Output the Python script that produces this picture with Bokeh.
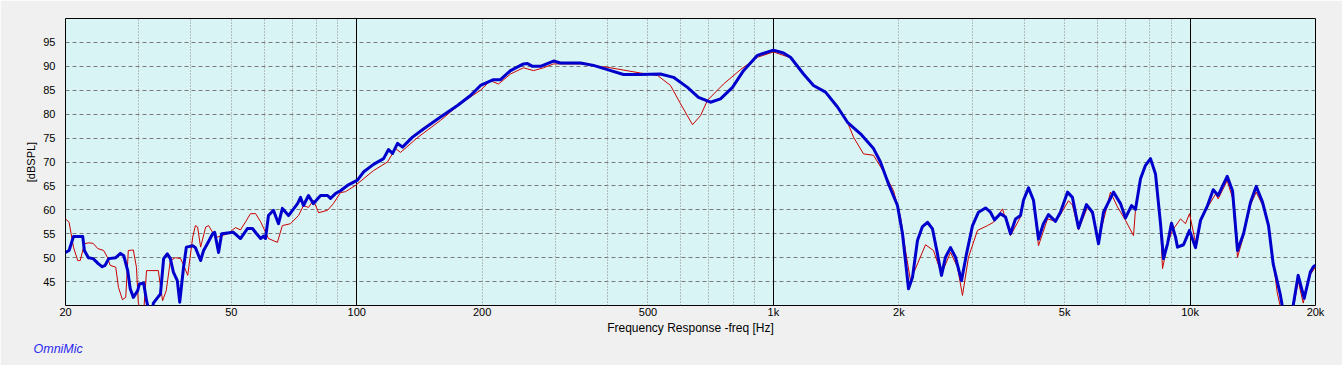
from bokeh.plotting import figure
from bokeh.models import FixedTicker, Grid, Range1d, Title
from bokeh.embed import file_html
from bokeh.resources import INLINE

# ---- data ----
freq_blue = [20, 20.4, 20.9, 22.0, 22.2, 22.7, 23.3, 24.0, 24.5, 24.9, 25.4, 26.4, 27.1, 27.6, 28.2,
             28.6, 29.1, 29.8, 30.1, 30.8, 31.3, 31.8, 32.3, 32.5, 33.3, 33.8, 34.4, 35.1, 35.7, 36.3,
             37.1, 37.6, 38.4, 39.0, 40.4, 41.0, 42.2, 42.9, 43.8, 45.1, 45.6, 46.6,
             47.4, 50.6, 52.6, 54.7, 56.2, 57.5, 58.8, 59.7, 60.4, 61.4, 63.1,
             64.9, 66.3, 68.6, 72.1, 73.3, 74.5, 76.6, 78.7, 81.9, 85.1, 86.5, 88.9, 91.4, 95.0, 100.4,
             103.8, 109.7, 116.0, 119.2, 121.9, 125.3, 128.8, 136.1, 144.6, 158.9, 174.5, 187.5, 198.2,
             212.9, 221.3, 233.9, 251.3, 256.9, 264.1, 276.1, 296.6, 308.3, 344.4, 370.0, 399.8, 436.8,
             479.8, 535.8, 575.7, 622.0, 661.0, 706.3, 746.5, 797.7, 847.7, 915.8, 1000, 1057, 1099,
             1181, 1248, 1334, 1425, 1506, 1618, 1739,
             1807, 1889, 1985, 2041, 2087, 2110, 2157, 2217, 2279, 2343, 2409, 2476, 2532, 2588, 2661,
             2735, 2828, 2907, 3005, 3106, 3229, 3319, 3393, 3508, 3606, 3707, 3811, 3918, 3983, 4095,
             4209, 4327, 4447, 4572, 4754, 4885, 5080, 5220, 5398, 5642, 5832, 6029, 6198, 6550, 6808,
             6999, 7235, 7397, 7604, 7817, 8036, 8261, 8493, 8635, 8828, 9025, 9227, 9329, 9644, 9969,
             10305, 10594, 11012, 11363, 11681, 12277, 12644, 12998, 13436, 13966, 14410, 14924, 15427,
             15830, 16454, 16637, 16915, 17389, 17680, 18175, 18788, 19440, 19764, 20000]
db_blue = [51.1, 51.5, 54.4, 54.4, 51.5, 50.0, 49.8, 48.7, 48.1, 48.4, 49.8, 50.0, 50.9, 50.4, 47.3,
           43.5, 41.7, 43.1, 44.5, 44.7, 41.0, 38.5, 38.5, 40.5, 41.7, 42.4, 49.8, 50.8, 49.8, 47.0,
           45.2, 40.7, 48.0, 52.2, 52.5, 52.1, 49.4, 51.5, 52.9, 55.0, 55.3, 51.1,
           55.0, 55.3, 54.0, 56.1, 56.1, 55.0, 54.0, 54.5, 54.0, 58.8, 59.9,
           57.1, 60.3, 58.8, 61.3, 62.6, 60.9, 63.0, 61.3, 63.0, 63.0, 62.4, 63.4, 64.0, 65.1, 66.2,
           67.9, 69.5, 70.7, 72.6, 71.8, 73.9, 73.1, 75.2, 76.9, 79.4, 81.8, 83.9, 86.0,
           87.2, 87.2, 89.1, 90.5, 90.6, 90.0, 90.0, 91.1, 90.7, 90.7, 90.2, 89.3, 88.3,
           88.3, 88.4, 87.7, 85.6, 83.5, 82.5, 83.2, 85.6, 89.1, 92.3, 93.4, 92.8, 91.9,
           88.4, 86.0, 84.6, 81.5, 78.3, 75.9, 72.8,
           70.0, 65.4, 60.9, 55.0, 47.3, 43.5, 45.9, 53.6, 56.5, 57.4, 56.0, 50.8, 46.3, 50.1, 52.1,
           50.1, 45.2, 50.8, 56.7, 59.5, 60.4, 59.5, 57.9, 59.2, 58.5, 55.0, 58.1, 58.8, 62.0, 64.6,
           62.0, 53.9, 57.1, 59.0, 57.6, 59.5, 63.7, 62.6, 56.2, 61.1, 59.5, 52.9, 59.5, 63.7, 61.3,
           58.3, 60.9, 60.1, 66.5, 69.3, 70.7, 67.5, 57.1, 49.8, 52.9, 57.2, 54.3, 52.2, 52.7, 55.7,
           52.1, 57.8, 60.9, 64.2, 63.0, 67.0, 64.0, 51.5, 55.0, 61.6, 64.9, 61.6, 56.7,
           48.7, 42.4, 40.0, 38.0, 38.0, 40.0, 46.3, 41.5, 47.0, 48.1, 48.4]

freq_red = [20, 20.4, 20.9, 21.4, 21.7, 22.2, 22.7, 23.3, 23.9, 24.7, 25.2, 25.6, 26.4, 26.8, 27.4,
            27.9, 28.3, 29.1, 29.6, 29.9, 30.3, 30.8, 31.3, 33.4, 34.2, 34.9, 35.7, 36.7, 37.8, 38.6,
            39.3, 40.4, 41.0, 41.5, 42.2, 43.4, 44.1, 45.1, 46.3,
            49.0, 51.2, 52.6, 54.1, 55.6, 57.2, 58.8, 61.4,
            64.5, 66.3, 69.3, 72.5, 74.5, 76.6, 78.7, 81.0, 85.1, 87.9, 91.4, 94.0, 99.3, 109.7, 118.5,
            123.9, 127.4, 139.9, 158.9, 177.4, 198.2, 209.4, 218.9, 233.9, 251.3, 265.6, 280.7, 296.6,
            344.4, 399.8, 479.8, 527.0, 566.3, 598.4, 639.5, 668.4, 694.7, 759.0, 833.7, 915.8, 1000,
            1099, 1181, 1248, 1334, 1425, 1506, 1557, 1645, 1739, 1838,
            1942, 2019, 2075, 2133, 2217, 2318, 2422, 2532, 2661, 2766, 2843, 2939, 3089, 3264, 3375,
            3547, 3707, 3918, 3983, 4095, 4209, 4327, 4548, 4754, 4885, 5108, 5220, 5398, 5673, 5832,
            6029, 6442, 6696, 6999, 7316, 7397, 7604, 7817, 8036, 8261, 8493, 8587, 8828, 9075, 9485,
            9751, 9969, 10305, 10594, 11012, 11509, 11681, 12277, 12644, 12998, 13436, 13966, 14410,
            14924, 15427, 16179, 16637, 17582, 18175, 18684, 19440, 20000]
db_red = [58.1, 57.4, 52.2, 49.4, 49.4, 52.9, 53.1, 53.0, 51.9, 51.5, 50.1, 48.4, 48.0, 43.8, 41.2,
          41.7, 51.5, 51.6, 48.0, 40.7, 38.5, 38.5, 47.3, 47.3, 41.0, 43.1, 49.4, 50.0, 49.8, 48.0,
          46.3, 54.3, 56.7, 56.4, 52.2, 56.4, 56.7, 55.3, 54.3,
          55.0, 56.3, 55.8, 57.5, 59.2, 59.2, 57.5, 54.0,
          53.2, 56.7, 57.1, 58.8, 60.9, 60.5, 62.0, 59.4, 59.9, 61.3, 63.6, 63.8, 65.1, 68.2, 70.0,
          72.8, 72.0, 75.1, 78.7, 82.2, 85.0, 87.0, 86.3, 88.4, 89.7, 89.1, 89.7, 90.5,
          90.5, 89.8, 88.6, 88.1, 86.0, 82.2, 77.8, 79.7, 82.9, 86.3, 89.3, 91.9, 93.0,
          91.8, 88.4, 86.0, 84.6, 81.5, 78.3, 75.2, 71.7, 71.4, 68.0,
          64.0, 58.5, 51.5, 45.2, 48.7, 52.7, 51.5, 46.6, 51.1, 48.0, 42.1, 50.1, 55.7, 56.7, 57.4,
          60.2, 54.6, 58.5, 62.0, 64.5, 62.0, 52.5, 58.1, 57.6, 59.0, 61.9, 61.0, 55.8, 60.6, 59.0,
          53.6, 63.7, 60.6, 57.8, 54.6, 60.1, 66.5, 69.3, 70.7, 67.5, 57.0, 47.7, 52.9, 55.7, 58.1,
          57.1, 59.2, 53.2, 57.5, 60.5, 63.3, 62.3, 66.1, 62.5, 50.1, 54.5, 61.0, 63.7,
          61.0, 57.0, 42.8, 38.0, 38.0, 45.2, 40.5, 46.5, 48.0]

x_ticks = [20, 50, 100, 200, 500, 1000, 2000, 5000, 10000, 20000]
x_tick_labels = ["20", "50", "100", "200", "500", "1k", "2k", "5k", "10k", "20k"]
y_ticks = [45, 50, 55, 60, 65, 70, 75, 80, 85, 90, 95]
minor_grid_freqs = [30, 40, 50, 60, 70, 80, 90, 200, 300, 400, 500, 600, 700, 800, 900,
                    2000, 3000, 4000, 5000, 6000, 7000, 8000, 9000]
major_grid_freqs = [100, 1000, 10000]

# ---- figure ----
p = figure(width=1342, height=365, x_axis_type="log",
           x_range=Range1d(20, 20000), y_range=Range1d(40, 100),
           output_backend="svg", toolbar_location=None,
           min_border_left=65, min_border_right=27, min_border_top=18, min_border_bottom=60)

p.background_fill_color = "#d8f4f4"
p.border_fill_color = "#f0f0f0"
p.outline_line_color = "black"
p.outline_line_width = 1

FONT = "Liberation Sans"

for ax in (p.xaxis, p.yaxis):
    ax.axis_line_color = None
    ax.major_tick_line_color = None
    ax.minor_tick_line_color = None
    ax.major_tick_in = 0
    ax.major_tick_out = 0
    ax.minor_tick_in = 0
    ax.minor_tick_out = 0
    ax.major_label_text_font = FONT
    ax.major_label_text_font_size = "11px"
    ax.major_label_text_color = "black"
    ax.axis_label_text_font = FONT
    ax.axis_label_text_font_style = "normal"
    ax.axis_label_text_color = "black"

# x axis
p.xaxis.ticker = FixedTicker(ticks=x_ticks, minor_ticks=[])
p.xaxis.major_label_overrides = {t: l for t, l in zip(x_ticks, x_tick_labels)}
p.xaxis.axis_label = "Frequency Response -freq [Hz]"
p.xaxis.major_label_standoff = 0
p.xaxis.axis_label_standoff = 0
p.xaxis.axis_label_text_font_size = "12px"

# y axis
p.yaxis.ticker = FixedTicker(ticks=y_ticks, minor_ticks=[])
p.yaxis.axis_label = "[dBSPL]"
p.yaxis.major_label_standoff = 10
p.yaxis.axis_label_standoff = 3
p.yaxis.axis_label_text_font_size = "11px"

# grids
p.xgrid.ticker = FixedTicker(ticks=minor_grid_freqs)
p.xgrid.grid_line_color = "#8a8a8a"
p.xgrid.grid_line_dash = "1 2"
p.xgrid.grid_line_width = 1
p.ygrid.ticker = FixedTicker(ticks=y_ticks)
p.ygrid.grid_line_color = "#7a7a7a"
p.ygrid.grid_line_dash = "4 3"
p.ygrid.grid_line_width = 1
major_grid = Grid(dimension=0, ticker=FixedTicker(ticks=major_grid_freqs),
                  grid_line_color="black", grid_line_width=1)
p.add_layout(major_grid)

# curves
p.line(freq_red, db_red, line_color="#cc0000", line_width=1, line_join="round")
p.line(freq_blue, db_blue, line_color="#0000cc", line_width=3, line_join="round")

# brand label below the axis
brand = Title(text="OmniMic", align="left", offset=-32, standoff=4,
              text_font=FONT, text_font_size="12.5px", text_font_style="italic",
              text_color="#2a2aee")
p.add_layout(brand, "below")

open("out.html", "w").write(file_html(p, INLINE))
